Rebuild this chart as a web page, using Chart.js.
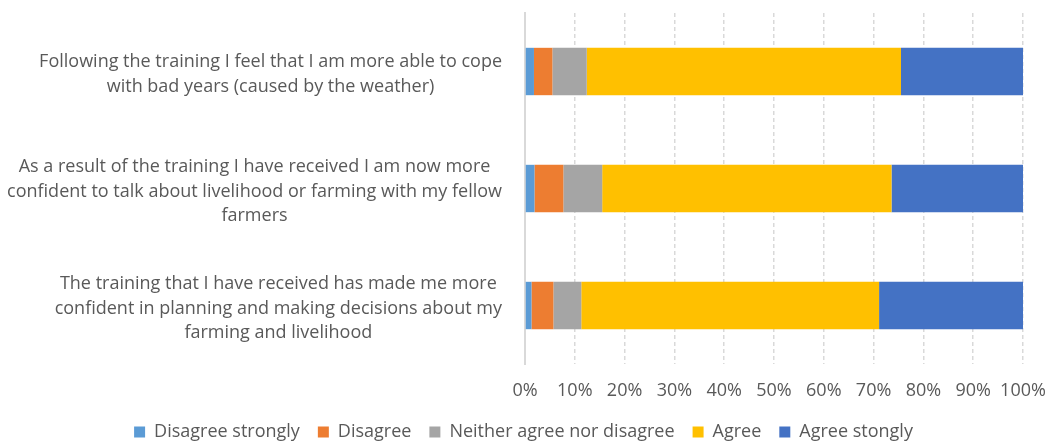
<!DOCTYPE html>
<html>
<head>
<meta charset="utf-8">
<script src="https://cdn.jsdelivr.net/npm/chart.js@4"></script>
<style>
html,body{margin:0;padding:0;background:#fff;}
#wrap{width:1047px;height:441px;position:relative;}
</style>
</head>
<body>
<div id="wrap"><canvas id="c" width="1047" height="441"></canvas></div>
<script>
const categories = [
  ["Following the training I feel that I am more able to cope", "with bad years (caused by the weather)"],
  ["As a result of the training I have received I am now more", "confident to talk about livelihood or farming with my fellow", "farmers"],
  ["The training that I have received has made me more", "confident in planning and making decisions about my", "farming and livelihood"]
];
const seriesNames = ["Disagree strongly", "Disagree", "Neither agree nor disagree", "Agree", "Agree stongly"];
const disagreeStrongly = [1.8, 1.9, 1.3];
const disagree = [3.7, 5.8, 4.4];
const neither = [6.9, 7.8, 5.6];
const agree = [63.1, 58.1, 59.8];
const agreeStrongly = [24.5, 26.4, 28.9];
const tickLabels = ["0%","10%","20%","30%","40%","50%","60%","70%","80%","90%","100%"];
const colors = ["#5B9BD5", "#ED7D31", "#A5A5A5", "#FFC000", "#4472C4"];

const FONT = "'Open Sans'";
const FS = 18;
const values = [disagreeStrongly, disagree, neither, agree, agreeStrongly];

const labelPlugin = {
  id: 'centeredLabels',
  afterInit(chart) {
    const lg = chart.legend;
    if (lg) {
      const orig = lg.fit.bind(lg);
      lg.fit = function () { orig(); this.height = 36; };
    }
  },
  afterDraw(chart) {
    const ctx = chart.ctx;
    const y = chart.scales.y;
    ctx.save();
    ctx.font = FS + "px " + FONT;
    ctx.fillStyle = "#595959";
    ctx.textAlign = "center";
    ctx.textBaseline = "middle";
    const rightEdge = 502;
    const lh = 24.5;
    categories.forEach((lines, i) => {
      const cy = y.getPixelForTick(i) + 3;
      const w = Math.max(...lines.map(l => ctx.measureText(l).width));
      const cx = rightEdge - w / 2;
      const y0 = cy - (lines.length - 1) * lh / 2;
      lines.forEach((l, j) => ctx.fillText(l, cx, y0 + j * lh));
    });
    ctx.restore();
  }
};

new Chart(document.getElementById('c'), {
  type: 'bar',
  data: {
    labels: categories,
    datasets: seriesNames.map((n, i) => ({
      label: n,
      data: values[i],
      backgroundColor: colors[i],
      borderWidth: 0,
      barPercentage: 0.405,
      categoryPercentage: 1.0
    }))
  },
  options: {
    indexAxis: 'y',
    responsive: false,
    animation: false,
    layout: { padding: { top: 13, right: 0, left: 0, bottom: 0 } },
    scales: {
      x: {
        stacked: true,
        min: 0, max: 100,
        ticks: {
          stepSize: 10,
          color: "#595959",
          font: { family: FONT, size: FS },
          padding: 16,
          callback: (v, i) => tickLabels[i]
        },
        grid: { color: "#d9d9d9", lineWidth: 1.5, drawTicks: false, tickLength: 0 },
        border: { display: false, dash: [4, 3] },
        afterFit(s) { s.height = 41; s.paddingLeft = 0; s.paddingRight = 24; }
      },
      y: {
        stacked: true,
        ticks: { callback: () => "" },
        grid: { display: false, drawTicks: false },
        border: { display: true, color: "#d9d9d9", width: 2 },
        afterFit(s) { s.width = 525; }
      }
    },
    plugins: {
      legend: {
        position: 'bottom',
        labels: {
          boxWidth: 11, boxHeight: 11,
          color: "#595959",
          font: { family: FONT, size: FS },
          padding: 18
        }
      },
      tooltip: { enabled: false }
    }
  },
  plugins: [labelPlugin]
});
</script>
</body>
</html>
